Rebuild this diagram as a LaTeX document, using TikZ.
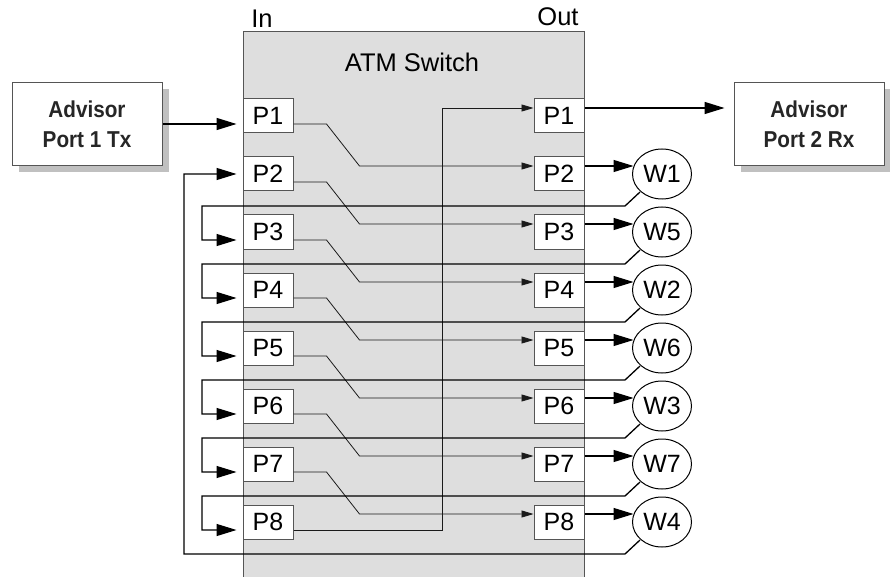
\documentclass[tikz,border=0pt]{standalone}
\usepackage{fontspec}
\setmainfont{Liberation Sans}
\newfontfamily\advfont[FakeStretch=0.9]{Liberation Sans Bold}
\usetikzlibrary{arrows.meta,calc,shapes.geometric,shadows}
\definecolor{boxgray}{HTML}{DEDEDE}
\definecolor{edgegray}{HTML}{555555}
\definecolor{linegray}{HTML}{1A1A1A}
\definecolor{shadowgray}{HTML}{C0C0C0}
\begin{document}
\begin{tikzpicture}[x=1pt,y=-1pt,
  lbl/.style={font=\fontsize{25.5}{28}\selectfont,inner sep=0pt},
  port/.style={draw=edgegray,fill=white,line width=1pt,minimum width=50pt,minimum height=34pt,inner sep=0pt,font=\fontsize{25}{28}\selectfont},
  wnode/.style={ellipse,draw=black,fill=white,line width=1pt,minimum width=59pt,minimum height=50pt,inner sep=0pt,font=\fontsize{25}{28}\selectfont},
  advbox/.style={draw=edgegray,fill=white,line width=1pt,minimum width=150pt,minimum height=83pt,inner sep=0pt,align=center,
    font=\advfont\fontsize{23}{30}\selectfont,text=black!85,
    drop shadow={shadow xshift=7pt,shadow yshift=-7pt,fill=shadowgray,opacity=1}},
  inner/.style={draw=linegray,line width=0.8pt,-{Triangle[length=12pt,width=7pt]}},
  outer/.style={draw=black,line width=1.5pt,-{Triangle[length=20pt,width=12pt]}},
  loopline/.style={draw=black,line width=1.3pt,-{Triangle[length=20pt,width=12pt]},shorten >=6pt},
]
\useasboundingbox (0,0) rectangle (890,577);
% switch body
\fill[boxgray] (243,32) rectangle (584,577);
\draw[edgegray,line width=1pt] (243,577) -- (243,32) -- (584,32) -- (584,577);
\node[lbl] (in) at (262,19) {In};
\node[lbl] (out) at (558,17) {Out};
\node[lbl] (title) at (412,62) {ATM Switch};
% ports
\foreach \k in {1,...,8} {
  \node[port] (i\k) at (268,{116+58*(\k-1)}) {P\k};
  \node[port] (o\k) at (559,{116+58*(\k-1)}) {P\k};
}
% W nodes
\foreach \k/\w in {2/1,3/5,4/2,5/6,6/3,7/7,8/4}
  \node[wnode] (w\k) at (662,{116+58*(\k-1)}) {W\w};
% advisors
\node[advbox] (adv1) at (87,124) {Advisor\\Port 1 Tx};
\node[advbox] (adv2) at (809,124) {Advisor\\Port 2 Rx};
% internal cross connections
\foreach \k/\n in {1/2,2/3,3/4,4/5,5/6,6/7,7/8}
  \draw[inner] ($(i\k.east)+(0,8)$) -- ++(33,0) -- ($(o\n.west)+(-174,-8)$) -- ($(o\n.west)+(0,-8)$);
\draw[inner] ($(i8.east)+(0,8)$) -- ++(149,0) |- ($(o1.west)+(0,-8)$);
% outputs to W
\foreach \k in {2,...,8}
  \draw[outer,line width=1.3pt] ($(o\k.east)+(0,-8)$) -- ++(49,0);
% loops back
\foreach \k/\n in {2/3,3/4,4/5,5/6,6/7,7/8}
  \draw[loopline] ($(w\k.center)+(-22,18)$) -- ++(-15,14) -- ++(-423,0) |- ($(i\n.west)+(0,8)$);
\draw[loopline] ($(w8.center)+(-22,18)$) -- ++(-15,14) -- ++(-441,0) |- (i2.west);
% advisor links
\draw[outer,shorten >=6pt] (adv1.east) -- ($(i1.west)+(0,8)$);
\draw[outer] ($(o1.east)+(0,-8)$) -- ($(adv2.west |- o1.east)+(-9,-8)$);
\end{tikzpicture}
\end{document}
